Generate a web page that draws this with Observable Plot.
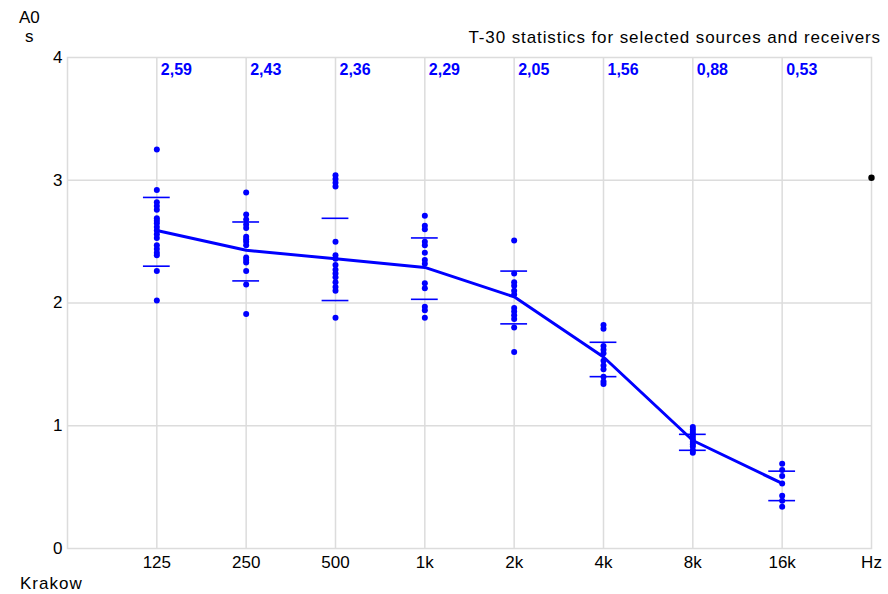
<!DOCTYPE html>
<html>
<head>
<meta charset="utf-8">
<script src="https://cdn.jsdelivr.net/npm/d3@7"></script>
<script src="https://cdn.jsdelivr.net/npm/@observablehq/plot@0.6"></script>
<style>
  html, body { margin: 0; padding: 0; background: #fff; }
  #wrap { position: relative; width: 888px; height: 594px; font-family: "Liberation Sans", Arial, sans-serif; background: #fff; }
  .lbl { position: absolute; font-size: 17px; color: #000; white-space: nowrap; z-index: 2; }
  #chart { position: absolute; left: 0; top: 0; z-index: 1; }
</style>
</head>
<body>
<div id="wrap">
  <div id="chart"></div>
  <div class="lbl" style="left:19px; top:8px;">A0</div>
  <div class="lbl" style="left:25px; top:27px;">s</div>
  <div class="lbl" style="right:7px; top:28px; letter-spacing:0.9px;">T-30 statistics for selected sources and receivers</div>
  <div class="lbl" style="left:20px; top:574px; letter-spacing:1px;">Krakow</div>
</div>
<script>
// Categories (x index 1..8 are bands, 9 is "Hz")
const freqs = ["125", "250", "500", "1k", "2k", "4k", "8k", "16k"];
const xTickLabels = ["125", "250", "500", "1k", "2k", "4k", "8k", "16k", "Hz"];
const yTicks = [0, 1, 2, 3, 4];

// Mean T-30 values (s)
const means = [2.59, 2.43, 2.36, 2.29, 2.05, 1.56, 0.88, 0.53];
const meanLabels = ["2,59", "2,43", "2,36", "2,29", "2,05", "1,56", "0,88", "0,53"];

// Upper / lower spread marks
const upper = [2.86, 2.66, 2.69, 2.53, 2.26, 1.68, 0.93, 0.63];
const lower = [2.30, 2.18, 2.02, 2.03, 1.83, 1.40, 0.80, 0.39];

// Individual measurements per band
const pts125 = [3.25, 2.92, 2.82, 2.79, 2.76, 2.69, 2.67, 2.65, 2.62, 2.59, 2.56, 2.53, 2.47, 2.44, 2.41, 2.39, 2.26, 2.02];
const pts250 = [2.90, 2.72, 2.68, 2.64, 2.61, 2.54, 2.52, 2.50, 2.47, 2.37, 2.35, 2.33, 2.26, 2.15, 1.91];
const pts500 = [3.04, 3.01, 2.98, 2.95, 2.50, 2.39, 2.36, 2.31, 2.27, 2.24, 2.21, 2.17, 2.13, 2.10, 1.88];
const pts1k  = [2.71, 2.63, 2.60, 2.50, 2.47, 2.41, 2.35, 2.32, 2.16, 2.12, 1.97, 1.94, 1.88];
const pts2k  = [2.51, 2.24, 2.17, 2.14, 2.10, 2.07, 1.96, 1.93, 1.90, 1.87, 1.80, 1.60];
const pts4k  = [1.82, 1.79, 1.65, 1.62, 1.59, 1.53, 1.49, 1.46, 1.40, 1.36, 1.34];
const pts8k  = [0.99, 0.97, 0.95, 0.93, 0.91, 0.89, 0.87, 0.85, 0.83, 0.80, 0.78];
const pts16k = [0.69, 0.64, 0.59, 0.53, 0.43, 0.39, 0.34];

// Marker at the right edge
const edgeMarker = [{x: 9, y: 3.02}];

const allPts = [pts125, pts250, pts500, pts1k, pts2k, pts4k, pts8k, pts16k];
const dots = allPts.flatMap((arr, i) => arr.map(v => ({x: i + 1, y: v})));
const summary = freqs.map((f, i) => ({x: i + 1, mean: means[i], label: meanLabels[i], up: upper[i], lo: lower[i]}));

const blue = "#0000ff";
const grid = "#dcdcdc";
const halfTick = 0.15;

const chart = Plot.plot({
  width: 888,
  height: 594,
  marginLeft: 67,
  marginRight: 17,
  marginTop: 57,
  marginBottom: 46,
  style: {fontFamily: "'Liberation Sans', Arial, sans-serif", fontSize: "17px", background: "transparent", overflow: "visible"},
  x: {domain: [0, 9], axis: null},
  y: {domain: [0, 4], axis: null},
  marks: [
    Plot.ruleY([1, 2, 3], {stroke: grid, strokeWidth: 1.5}),
    Plot.ruleX(d3.range(1, 9), {stroke: grid, strokeWidth: 1.5}),
    Plot.frame({stroke: grid, strokeWidth: 1.5}),
    Plot.axisY(yTicks, {tickSize: 0, tickPadding: 5, fontSize: 17, fill: "#000", label: null, tickFormat: d => String(d)}),
    Plot.axisX(d3.range(1, 10), {tickSize: 0, tickPadding: 7, fontSize: 17, fill: "#000", label: null, tickFormat: d => xTickLabels[d - 1]}),
    Plot.ruleY(summary, {y: "up", x1: d => d.x - halfTick, x2: d => d.x + halfTick, stroke: blue, strokeWidth: 1.6}),
    Plot.ruleY(summary, {y: "lo", x1: d => d.x - halfTick, x2: d => d.x + halfTick, stroke: blue, strokeWidth: 1.6}),
    Plot.line(summary, {x: "x", y: "mean", stroke: blue, strokeWidth: 3}),
    Plot.dot(dots, {x: "x", y: "y", r: 3, fill: blue, stroke: null}),
    Plot.dot(edgeMarker, {x: "x", y: "y", r: 3.2, fill: "#000", stroke: null}),
    Plot.text(summary, {x: "x", y: () => 4, text: "label", dx: 4, dy: 12, textAnchor: "start", fill: blue, fontWeight: "bold", fontSize: 16})
  ]
});
document.getElementById("chart").appendChild(chart);
</script>
</body>
</html>
